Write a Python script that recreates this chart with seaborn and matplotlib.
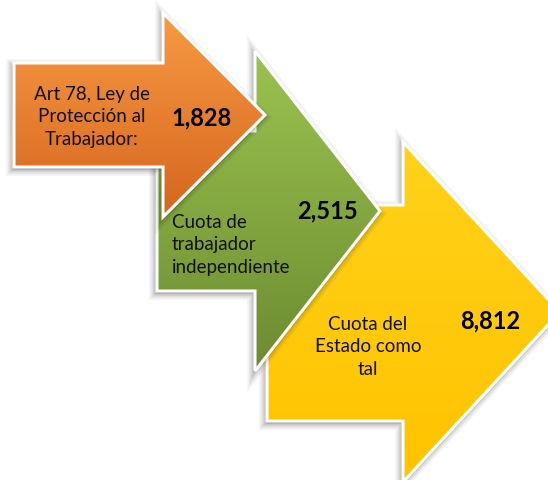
import numpy as np
import matplotlib
matplotlib.use('Agg')
import matplotlib.pyplot as plt
from matplotlib.patches import Polygon
from matplotlib.colors import LinearSegmentedColormap
import seaborn as sns

# Data
labels = ["Art 78, Ley de\nProtección al\nTrabajador:",
          "Cuota de\ntrabajador\nindependiente",
          "Cuota del\nEstado como\ntal"]
values = [1828, 2515, 8812]

# Styles
top_colors = ["#F89A44", "#9BC34F", "#FFD21A"]
bottom_colors = ["#D4661D", "#6C8B31", "#FFC300"]

# Arrow layout in pixel units:
# shaft left, shaft top, shaft bottom, head base, head top, tip x, head bottom
arrow_layout = [
    (14, 64, 168, 163, 14, 265, 218),
    (157, 132, 292, 255, 52, 380, 372),
    (267, 206, 422, 403, 143, 560, 483),
]
# label position / alignment, value position
label_layout = [(92, 117, "center"), (172, 245, "left"), (368, 347, "center")]
value_layout = [(202, 118), (327, 211), (490, 321)]

sns.set_theme(style="white")
plt.rcParams['font.family'] = ['Lato', 'DejaVu Sans']

W, H = 548, 481
fig = plt.figure(figsize=(W / 100, H / 100), dpi=100)
ax = fig.add_axes([0, 0, 1, 1])
ax.set_xlim(0, W)
ax.set_ylim(H, 0)
ax.axis('off')


def arrow_points(x0, yt, yb, xb, yht, xt, yhb):
    yc = (yht + yhb) / 2
    return np.array([(x0, yt), (xb, yt), (xb, yht), (xt, yc),
                     (xb, yhb), (xb, yb), (x0, yb)])


# draw back to front: yellow, green, orange
for i in reversed(range(len(values))):
    z = (len(values) - i) * 10
    pts = arrow_points(*arrow_layout[i])

    # soft shadow
    for lw, a in [(9, 0.05), (6, 0.07), (3, 0.10)]:
        sh = Polygon(pts + np.array([-1.5, 2.5]), closed=True, facecolor='#000000',
                     edgecolor='#000000', alpha=a, linewidth=lw, joinstyle='miter',
                     zorder=z)
        ax.add_patch(sh)

    # gradient fill clipped to the arrow
    poly = Polygon(pts, closed=True, facecolor='none', edgecolor='none', zorder=z + 1)
    ax.add_patch(poly)
    cmap = LinearSegmentedColormap.from_list("g%d" % i, [top_colors[i], bottom_colors[i]])
    ymin, ymax = pts[:, 1].min(), pts[:, 1].max()
    xmin, xmax = pts[:, 0].min(), pts[:, 0].max()
    grad = np.linspace(0, 1, 256).reshape(-1, 1)
    im = ax.imshow(grad, cmap=cmap, aspect='auto', extent=(xmin, xmax, ymax, ymin),
                   zorder=z + 2, interpolation='bilinear')
    im.set_clip_path(poly)

    # white outline
    edge = Polygon(pts, closed=True, facecolor='none', edgecolor='white',
                   linewidth=2.2, joinstyle='miter', zorder=z + 3)
    ax.add_patch(edge)

    lx, ly, ha = label_layout[i]
    ax.text(lx, ly, labels[i], ha=ha, va='center', fontsize=13.5, color='#111111',
            linespacing=1.42, zorder=z + 4)
    vx, vy = value_layout[i]
    ax.text(vx, vy, f"{values[i]:,}", ha='center', va='center', fontsize=17,
            fontweight='bold', color='#000000', zorder=z + 4)

ax.set_xlim(0, W)
ax.set_ylim(H, 0)
fig.savefig('out.png', dpi=100, facecolor='white')
